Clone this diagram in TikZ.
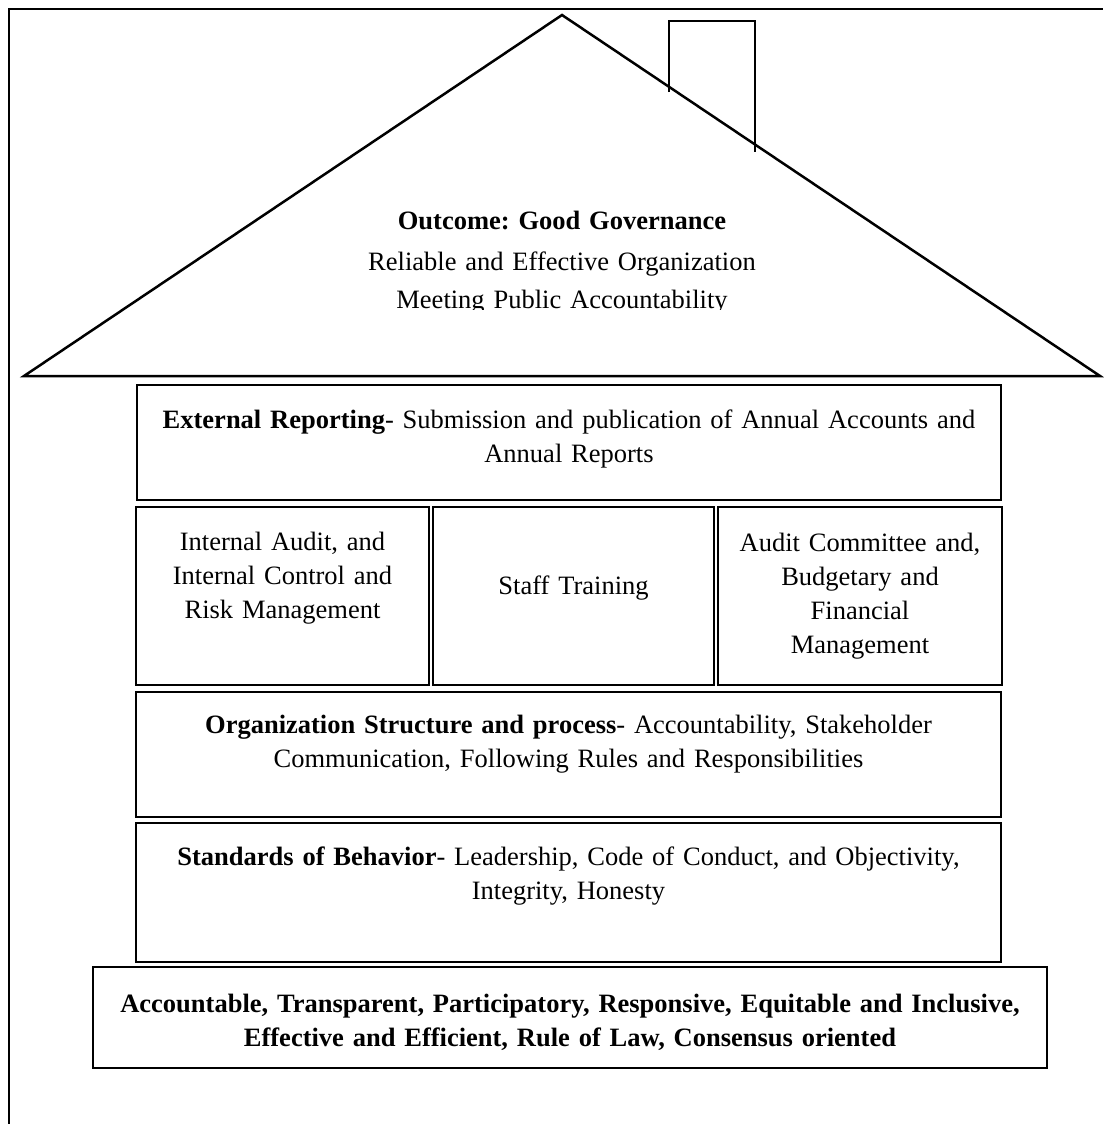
\documentclass[tikz,border=0pt]{standalone}
\usepackage{fontspec}
\setmainfont{Liberation Serif}
\frenchspacing
\begin{document}
\begin{tikzpicture}[x=1pt,y=-1pt,
  frameline/.style={line width=2pt},
  roofline/.style={line width=2.5pt, line join=miter},
  chimline/.style={line width=2pt},
  boxline/.style={line width=2pt},
  lbl/.style={anchor=base, inner sep=0pt, align=center, text width=#1,
    font=\fontsize{26.5}{34}\selectfont\frenchspacing},
  rooflbl/.style={anchor=base, inner sep=0pt, align=center, text width=#1,
    font=\fontsize{26.5}{38}\selectfont\frenchspacing}]
\useasboundingbox (0,0) rectangle (1103,1124);
% outer frame (left and top edges)
\draw[frameline] (9,1124) -- (9,9.5) -- (1103,9.5);
% roof
\draw[roofline] (24,376) -- (562,15) -- (1100,376) -- cycle;
% chimney
\draw[chimline] (669,92) -- (669,21) -- (755,21) -- (755,152);
% roof text (clipped at bottom)
\begin{scope}
  \clip (300,150) rectangle (850,309.5);
  \node[rooflbl=600pt] (outcome) at (562,229)
    {\textbf{Outcome: Good Governance}\\[3pt]Reliable and Effective Organization\\Meeting Public Accountability};
\end{scope}
% boxes
\draw[boxline] (137,385) rectangle (1001,500);
\draw[boxline] (136,507) rectangle (429,685);
\draw[boxline] (433,507) rectangle (714,685);
\draw[boxline] (718,507) rectangle (1002,685);
\draw[boxline] (136,692) rectangle (1001,817);
\draw[boxline] (136,823) rectangle (1001,962);
\draw[boxline] (93,967) rectangle (1047,1068);
% texts
\node[lbl=860pt] (ext) at (569,428)
  {\textbf{External Reporting}- Submission and publication of Annual Accounts and\\Annual Reports};
\node[lbl=285pt] (audit) at (282.5,550)
  {Internal Audit, and\\Internal Control and\\Risk Management};
\node[lbl=275pt] (staff) at (573.5,594) {Staff Training};
\node[lbl=280pt] (committee) at (860,551)
  {Audit Committee and,\\Budgetary and\\Financial\\Management};
\node[lbl=860pt] (org) at (568.5,733)
  {\textbf{Organization Structure and process}- Accountability, Stakeholder\\Communication, Following Rules and Responsibilities};
\node[lbl=860pt] (std) at (568.5,865)
  {\textbf{Standards of Behavior}- Leadership, Code of Conduct, and Objectivity,\\Integrity, Honesty};
\node[lbl=950pt] (base) at (570,1012)
  {\textbf{Accountable, Transparent, Participatory, Responsive, Equitable and Inclusive,\\Effective and Efficient, Rule of Law, Consensus oriented}};
\end{tikzpicture}
\end{document}
